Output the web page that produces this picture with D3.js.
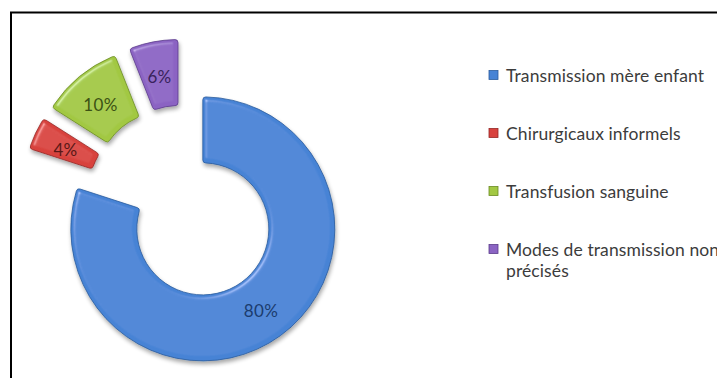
<!DOCTYPE html>
<html>
<head>
<meta charset="utf-8">
<script src="https://cdn.jsdelivr.net/npm/d3@7"></script>
<style>
  html, body { margin: 0; padding: 0; background: #fff; overflow: hidden; }
  svg { display: block; }
</style>
</head>
<body>
<svg id="chart" width="717" height="378"></svg>
<script>
// Modes of transmission (share, %)
const categories = [
  "Transmission mère enfant",
  "Chirurgicaux informels",
  "Transfusion sanguine",
  "Modes de transmission non précisés"
];
const values = [80, 4, 10, 6];
const fills = ["#4683d5", "#d8423e", "#a2c843", "#8b64c3"];
const edges = ["#2a5b9c", "#962725", "#6a8a22", "#5a3b8a"];
const labelColors = ["#1b3c6e", "#5a1816", "#3c5214", "#39235c"];

const svg = d3.select("#chart");
const W = 717, H = 378;

// Light bevel + soft shadow, applied to every slice
const defs = svg.append("defs");
const f = defs.append("filter").attr("id", "bevel")
  .attr("x", "-20%").attr("y", "-20%").attr("width", "140%").attr("height", "140%");
f.append("feGaussianBlur").attr("in", "SourceAlpha").attr("stdDeviation", 2).attr("result", "blur");
const spec = f.append("feSpecularLighting").attr("in", "blur")
  .attr("surfaceScale", 3).attr("specularConstant", 0.3).attr("specularExponent", 40)
  .attr("lighting-color", "#ffffff").attr("result", "spec");
spec.append("feDistantLight").attr("azimuth", 225).attr("elevation", 50);
f.append("feComposite").attr("in", "spec").attr("in2", "SourceAlpha").attr("operator", "in").attr("result", "specIn");
f.append("feComposite").attr("in", "SourceGraphic").attr("in2", "specIn")
  .attr("operator", "arithmetic").attr("k1", 0).attr("k2", 1).attr("k3", 1).attr("k4", 0).attr("result", "lit");
f.append("feGaussianBlur").attr("in", "SourceAlpha").attr("stdDeviation", 2.2).attr("result", "sblur");
f.append("feOffset").attr("in", "sblur").attr("dx", 1).attr("dy", 3).attr("result", "soff");
f.append("feComponentTransfer").attr("in", "soff").attr("result", "shadow")
  .append("feFuncA").attr("type", "linear").attr("slope", 0.35);
const m = f.append("feMerge");
m.append("feMergeNode").attr("in", "shadow");
m.append("feMergeNode").attr("in", "lit");

// Frame
svg.append("rect")
  .attr("x", 11).attr("y", 12.5).attr("width", W + 20).attr("height", H + 20)
  .attr("fill", "none").attr("stroke", "#000").attr("stroke-width", 2);

// Exploded donut
const cx = 184, cy = 203;
const outerR = 132, innerR = 66, explode = 32;

const pie = d3.pie().sort(null).value(d => d);
const arcs = pie(values);
const arc = d3.arc().innerRadius(innerR).outerRadius(outerR).cornerRadius(3);

const g = svg.append("g").attr("transform", `translate(${cx},${cy})`);
const slice = g.selectAll("g.slice").data(arcs).enter().append("g")
  .attr("class", "slice")
  .attr("transform", d => {
    const a = (d.startAngle + d.endAngle) / 2;
    return `translate(${Math.sin(a) * explode},${-Math.cos(a) * explode})`;
  });

slice.append("path")
  .attr("d", arc)
  .attr("fill", (d, i) => fills[i])
  .attr("stroke", (d, i) => edges[i])
  .attr("stroke-width", 0.8)
  .attr("filter", "url(#bevel)");

slice.append("text")
  .attr("transform", d => {
    const c = arc.centroid(d);
    return `translate(${c[0]},${c[1] + 2})`;
  })
  .attr("text-anchor", "middle")
  .attr("dominant-baseline", "central")
  .attr("font-family", "Lato, 'Open Sans', sans-serif")
  .attr("font-size", 17)
  .attr("letter-spacing", 0.3)
  .attr("fill", (d, i) => labelColors[i])
  .text(d => d.data + "%");

// Legend
const legendX = 489, legendY0 = 75, legendStep = 58;
const lg = svg.append("g");
categories.forEach((name, i) => {
  const y = legendY0 + i * legendStep;
  lg.append("rect")
    .attr("x", legendX).attr("y", y - 4.5).attr("width", 9).attr("height", 9)
    .attr("fill", fills[i]).attr("stroke", edges[i]).attr("stroke-width", 0.8);
  const t = lg.append("text")
    .attr("x", legendX + 17).attr("y", y + 7)
    .attr("font-family", "Lato, 'Open Sans', sans-serif")
    .attr("font-size", 17.5)
    .attr("letter-spacing", 0.1)
    .attr("fill", "#3c3c3c");
  if (i === 3) {
    t.append("tspan").attr("x", legendX + 17).text("Modes de transmission non");
    t.append("tspan").attr("x", legendX + 17).attr("dy", 21).text("précisés");
  } else {
    t.text(name);
  }
});
</script>
</body>
</html>
